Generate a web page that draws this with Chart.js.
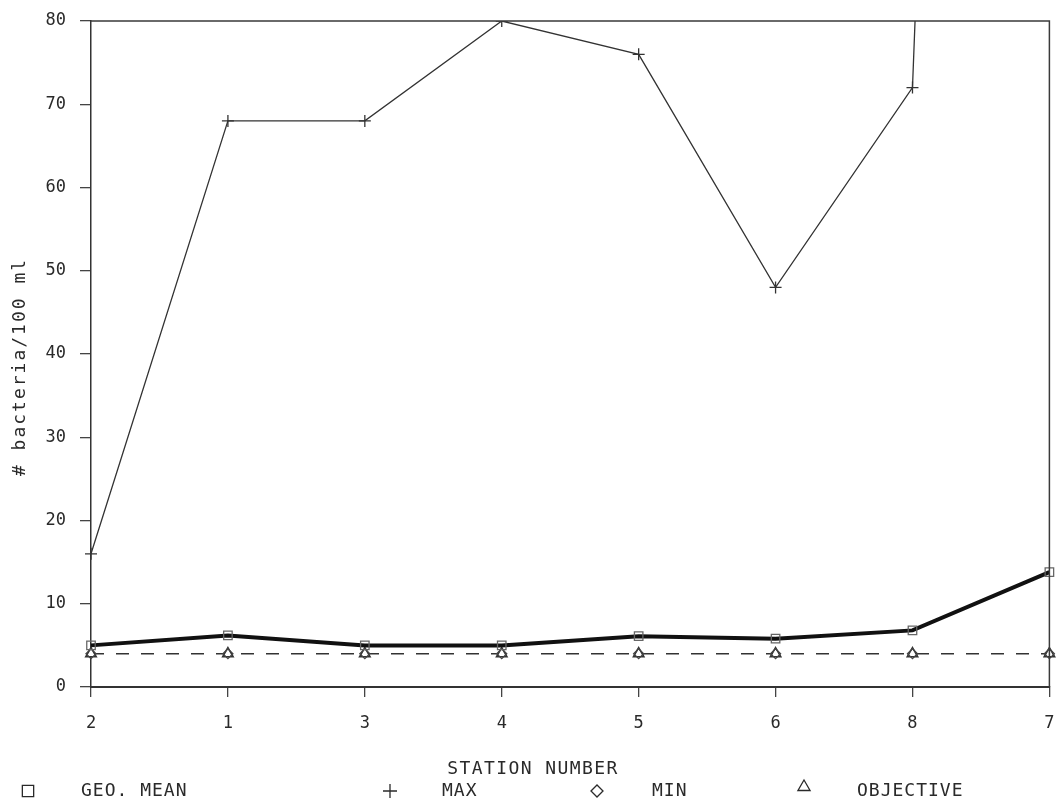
<!DOCTYPE html>
<html><head><meta charset="utf-8">
<script src="https://cdn.jsdelivr.net/npm/chart.js@4"></script>
<style>html,body{margin:0;padding:0;background:#fff}#wrap{width:1057px;height:804px;position:relative}</style>
</head><body><div id="wrap"><canvas id="c" width="1057" height="804"></canvas></div>
<script>
// ---- data ----
const stations  = ['2', '1', '3', '4', '5', '6', '8', '7'];
const geoMean   = [5.0, 6.2, 5.0, 5.0, 6.1, 5.8, 6.8, 13.8];
const maxVals   = [16, 68, 68, 80, 76, 48, 72, 500];
const minVals   = [4, 4, 4, 4, 4, 4, 4, 4];
const objective = [4, 4, 4, 4, 4, 4, 4, 4];
const yMin = 0, yMax = 80, yStep = 10;
const xTitle = 'STATION NUMBER';
const yTitle = '# bacteria/100 ml';
const legendLabels  = ['GEO. MEAN', 'MAX', 'MIN', 'OBJECTIVE'];
const legendSymbols = ['rect', 'cross', 'rectRot', 'triangle'];

const FONT = "'DejaVu Sans Mono', 'Liberation Mono', monospace";
const INK = '#2a2a2a';

// custom plugin: full box frame, axis titles and bottom legend row
const frameAndLegend = {
  id: 'frameAndLegend',
  afterDraw(chart) {
    const ctx = chart.ctx, a = chart.chartArea;
    ctx.save();
    ctx.strokeStyle = '#3a3a3a';
    ctx.lineWidth = 1.5;
    ctx.beginPath();
    ctx.moveTo(a.left, a.top); ctx.lineTo(a.right, a.top); ctx.lineTo(a.right, a.bottom);
    ctx.stroke();

    ctx.fillStyle = INK;
    ctx.font = "18px " + FONT;
    ctx.textBaseline = 'middle';
    const hasLS = 'letterSpacing' in ctx;
    // x axis title
    ctx.textAlign = 'center';
    if (hasLS) ctx.letterSpacing = '1.4px';
    ctx.fillText(xTitle, 533, 769);
    // y axis title
    ctx.save();
    ctx.translate(20, 367);
    ctx.rotate(-Math.PI / 2);
    if (hasLS) ctx.letterSpacing = '2px';
    ctx.fillText(yTitle, 0, 0);
    ctx.restore();

    // legend
    const symX = [28, 390, 597, 804];
    const txtX = [81, 442, 652, 857];
    const symR = [8, 7, 6, 7];
    const y = 791;
    ctx.strokeStyle = INK;
    ctx.lineWidth = 1.3;
    ctx.textAlign = 'left';
    if (hasLS) ctx.letterSpacing = '1px';
    legendLabels.forEach((t, i) => {
      ctx.fillStyle = 'rgba(0,0,0,0)';
      Chart.helpers.drawPoint(ctx, {pointStyle: legendSymbols[i], radius: symR[i], rotation: 0, borderWidth: 1.3},
                              symX[i], i === 3 ? y - 4 : y);
      ctx.fillStyle = INK;
      ctx.fillText(t, txtX[i], y);
    });
    ctx.restore();
  }
};

new Chart(document.getElementById('c'), {
  type: 'line',
  data: {
    labels: stations,
    datasets: [
      { label: legendLabels[0], data: geoMean, borderColor: '#111', borderWidth: 4,
        pointStyle: 'rect', pointRadius: 6, pointBorderWidth: 1.3, pointBorderColor: '#666',
        pointBackgroundColor: 'rgba(255,255,255,0)', tension: 0, order: 1 },
      { label: legendLabels[1], data: maxVals, borderColor: '#333', borderWidth: 1.3,
        pointStyle: 'cross', pointRadius: 6, pointBorderWidth: 1.3, pointBorderColor: '#333',
        tension: 0, order: 2 },
      { label: legendLabels[2], data: minVals, showLine: false, borderColor: '#444',
        pointStyle: 'rectRot', pointRadius: 5, pointBorderWidth: 1.3, pointBorderColor: '#444',
        pointBackgroundColor: 'rgba(255,255,255,0)', order: 3 },
      { label: legendLabels[3], data: objective, borderColor: '#333', borderWidth: 1.6,
        borderDash: [13, 12], pointStyle: 'triangle', pointRadius: 6, pointBorderWidth: 1.6,
        pointBorderColor: '#333', pointBackgroundColor: '#fff', tension: 0, order: 4 }
    ]
  },
  options: {
    responsive: false,
    animation: false,
    devicePixelRatio: 1,
    layout: { padding: { top: 21, right: 1, bottom: 0, left: 0 } },
    plugins: { legend: { display: false }, tooltip: { enabled: false } },
    scales: {
      x: {
        type: 'category',
        offset: false,
        afterFit(s) { s.height = 117; s.paddingLeft = 0; s.paddingRight = 0; },
        grid: { display: true, drawOnChartArea: false, drawTicks: true, tickLength: 10, color: '#444', lineWidth: 1.3 },
        border: { display: true, color: '#333', width: 2 },
        ticks: { font: { family: FONT, size: 17 }, color: INK, padding: 16, maxRotation: 0 },
        title: { display: false, text: xTitle }
      },
      y: {
        min: yMin, max: yMax,
        afterFit(s) { s.width = 91; s.paddingTop = 0; s.paddingBottom = 0; },
        grid: { display: true, drawOnChartArea: false, drawTicks: true, tickLength: 11, color: '#444', lineWidth: 1.3 },
        border: { display: true, color: '#333', width: 1.5 },
        ticks: { stepSize: yStep, font: { family: FONT, size: 17 }, color: INK, padding: 14 },
        title: { display: false, text: yTitle }
      }
    }
  },
  plugins: [frameAndLegend]
});
</script>
</body></html>
